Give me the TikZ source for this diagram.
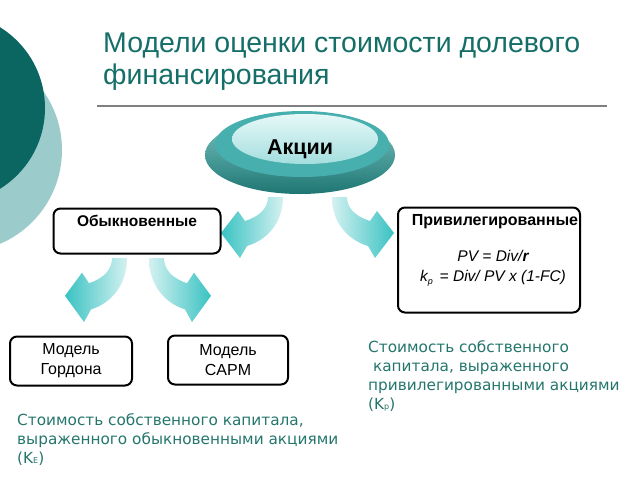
\documentclass[tikz,border=0pt]{standalone}
\usepackage{fontspec}
\setmainfont{Liberation Sans}
\newfontfamily\bodyfont{DejaVu Sans}
\usetikzlibrary{shapes.geometric}
\definecolor{darkteal}{HTML}{0B6661}
\definecolor{lightteal}{HTML}{9CCBCB}
\definecolor{titleteal}{HTML}{166E68}
\definecolor{noteteal}{HTML}{24766C}
\definecolor{arrlight}{HTML}{D4F1F1}
\definecolor{arrdark}{HTML}{3AC2C2}
\definecolor{disktop}{HTML}{7CC6C4}
\definecolor{diskbot}{HTML}{1E7673}
\definecolor{diskmid}{HTML}{47AFAE}
\definecolor{innertop}{HTML}{E6F8F8}
\definecolor{innerbot}{HTML}{A4DEDE}
\tikzset{
  box/.style={draw=black, line width=2pt, rounded corners=7pt, fill=white},
  note/.style={font=\bodyfont\fontsize{15.3}{19.3}\selectfont, text=noteteal, align=left, anchor=north west, inner sep=0pt},
  lbl/.style={font=\fontsize{16}{20}\selectfont, align=center, inner sep=0pt},
  boxtitle/.style={font=\bfseries\fontsize{15.5}{18}\selectfont, inner sep=0pt},
  barrowL/.style={left color=arrdark, right color=arrlight, draw=none},
  barrowR/.style={left color=arrlight, right color=arrdark, draw=none},
}
\newcommand{\bentarrow}{(6,0) .. controls (6,26) and (-10,43) .. (-30,49) -- (-37,61) -- (-56,36) -- (-39,14) -- (-32,24) .. controls (-16,19) and (-9,10) .. (-9,0) -- cycle}
\begin{document}
\begin{tikzpicture}[x=1pt,y=-1pt]
\useasboundingbox (0,0) rectangle (640,480);
% left decoration
\fill[lightteal] (-40,150) circle (102);
\fill[darkteal] (-50,108) circle (95);
% title
\node[anchor=west, text=titleteal, font=\fontsize{28.5}{32}\selectfont, align=left, inner sep=0pt] (title) at (103,62)
  {Модели оценки стоимости долевого\\финансирования};
\draw[gray, line width=1.3pt] (97,106) -- (607,106);
% Akcii disk
\shade[top color=disktop, bottom color=diskbot] (300,155) ellipse (95 and 39);
\fill[diskmid] (302,144) ellipse (87 and 33);
\shade[top color=innertop, bottom color=innerbot] (305,139) ellipse (73 and 25);
\node[font=\bfseries\fontsize{21.5}{24}\selectfont, inner sep=0pt] (akcii) at (300,149) {Акции};
% arrows from disk
\shade[barrowL, shift={(277,197)}] \bentarrow;
\shade[barrowR, shift={(338,197)}, xscale=-1] \bentarrow;
% boxes
\node[box, minimum width=167pt, minimum height=45pt] (obyk) at (137,231) {};
\node[boxtitle] (obyklbl) at (137,221) {Обыкновенные};
\node[box, minimum width=182pt, minimum height=105pt] (priv) at (489,260) {};
\node[boxtitle, font=\bfseries\fontsize{16}{18}\selectfont] (privlbl) at (495,222) {Привилегированные};
\node[font=\itshape\fontsize{15.5}{20}\selectfont, align=center, inner sep=0pt] (form) at (493,268)
  {PV = Div/\textbf{r}\\ k\raisebox{-0.4ex}{\fontsize{9}{10}\selectfont p}\, = Div/ PV x (1-FC)};
% arrows from Obyknovennye
\shade[barrowL, shift={(121,258)}, yscale=1.05] \bentarrow;
\shade[barrowR, shift={(155,258)}, xscale=-1, yscale=1.05] \bentarrow;
% model boxes
\node[box, minimum width=122pt, minimum height=49pt, lbl] (gordon) at (71,361) {Модель\\Гордона};
\node[box, minimum width=120pt, minimum height=49pt, lbl] (capm) at (228,360) {Модель\\CAPM};
% notes
\node[note] (noteP) at (368,340) {Стоимость собственного\\\ капитала, выраженного\\привилегированными акциями\\(K{\fontsize{8}{8}\selectfont p})};
\node[note] (noteE) at (17,413) {Стоимость собственного капитала,\\выраженного обыкновенными акциями\\(K{\fontsize{8}{8}\selectfont E})};
\end{tikzpicture}
\end{document}
